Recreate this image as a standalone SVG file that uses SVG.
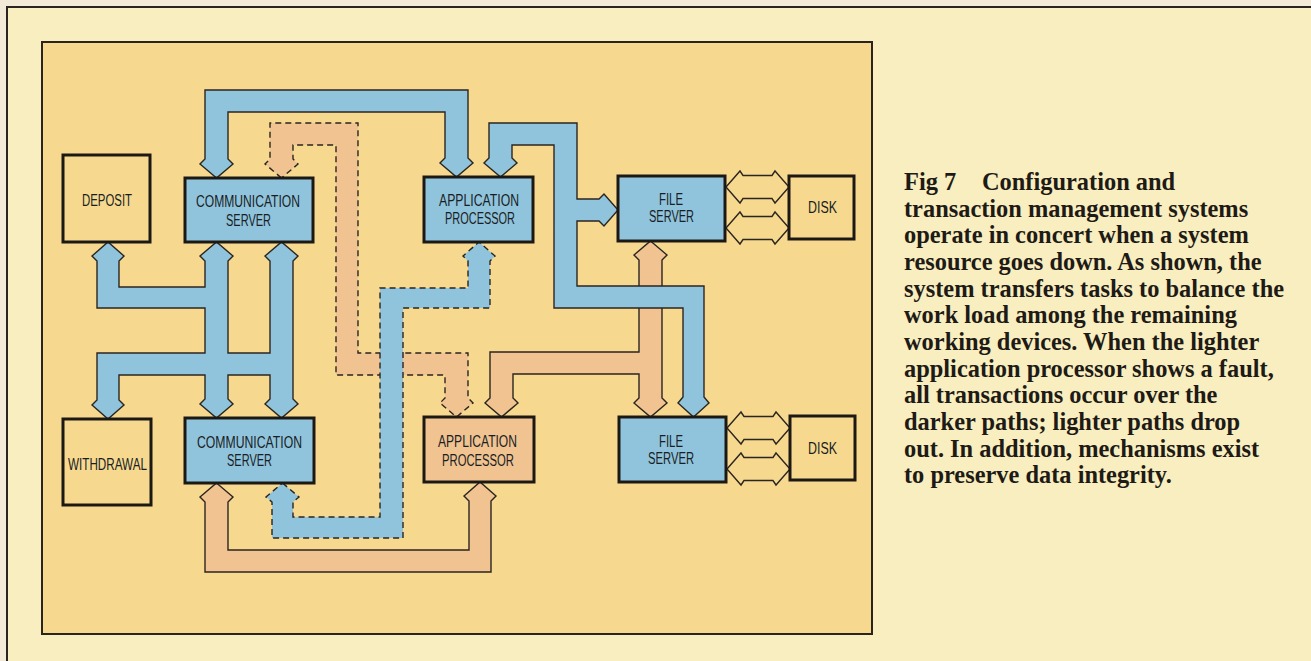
<svg xmlns="http://www.w3.org/2000/svg" width="1311" height="661" viewBox="0 0 1311 661">
<style>
.band{stroke:#2b2520;stroke-width:1.4;stroke-linejoin:miter}
.blue{fill:#90c4dc}
.orange{fill:#f0c391}
.dash{stroke-dasharray:6 4}
.box{stroke:#1c1814;stroke-width:3}
.bfill{fill:#90c4dc}
.ofill{fill:#f0c391}
.yfill{fill:#f6d98f}
.dbl{fill:#f6d98f;stroke:#2b2520;stroke-width:1.4;stroke-linejoin:miter}
.lbl{font-family:"Liberation Sans Narrow","Liberation Sans",Arial,sans-serif;font-size:16px;fill:#1a1e24}
.cap{font-family:"Liberation Serif","Times New Roman",serif;font-weight:bold;font-size:24.4px;fill:#1e1a16}
</style>
<rect x="0" y="0" width="1311" height="661" fill="#f2ead6"/>
<rect x="7" y="7" width="1320" height="670" fill="#f8eebf" stroke="#2a2420" stroke-width="2"/>
<rect x="42" y="42" width="830" height="592" fill="#f6d98f" stroke="#2a2420" stroke-width="2"/>

<g id="connectors">
  <!-- orange dashed: CS top ↔ AP bottom -->
  <polygon class="band orange dash" points="281.5,178 265,164 270,159 270,123 358,123 358,353 468,353 468,398 473,403 456.5,417 440,403 445,398 445,375 336,375 336,145 293,145 293,159 298,164"/>
  <!-- blue dashed: CS bottom ↔ AP top -->
  <polygon class="band blue dash" points="282.5,483 299,497 293,502 293,517 380,517 380,288 468,288 468,261 463,256 479,242 495,256 490,261 490,308 403,308 403,538 272,538 272,502 266,497"/>
  <!-- orange solid: CS bottom ↔ AP bottom -->
  <polygon class="band orange" points="216.5,483 233,497 228,502 228,550 469,550 469,501 464,496 480,482 496,496 491,501 491,572 205,572 205,502 200,497"/>
  <!-- orange solid: FS top ↔ FS bottom, branch AP bottom -->
  <polygon class="band orange" points="650.5,241 667,255 662,260 662,398 667,403 650.5,417 634,403 639,398 639,374 513,374 513,398 518,403 501.5,417 485,403 490,398 490,352 639,352 639,260 634,255"/>
  <!-- blue solid: CS top ↔ AP top -->
  <polygon class="band blue" points="216.5,178 200,164 205,159 205,90 468,90 468,158 473,163 456.5,177 440,163 445,158 445,112 228,112 228,159 233,164"/>
  <!-- blue solid: AP top ↔ FS top, FS bottom -->
  <polygon class="band blue" points="500.5,177 484,163 489,158 489,123 577,123 577,199 599,199 604,194 618,210 604,226 599,221 577,221 577,286 704,286 704,397 709,403 693.5,417 678,403 683,397 683,308 554,308 554,145 512,145 512,158 517,163"/>
  <!-- blue solid network: deposit, withdrawal, CS top ↔ CS bottom -->
  <polygon class="band blue" points="97,261 92,256 108,242 124,256 119,261 119,287 205,287 205,261 200,256 216.5,242 233,256 228,261 228,353 270,353 270,261 265,256 281.5,242 298,256 293,261 293,399 298,404 281.5,418 265,404 270,399 270,375 228,375 228,399 233,404 216.5,418 200,404 205,399 205,375 119,375 119,400 124,405 108,419 92,405 97,400 97,353 205,353 205,308 97,308"/>
  <!-- disk links -->
  <polygon class="dbl" points="726,187 740,171 743,175.5 772,175.5 775,171 789,187 775,203 772,198.5 743,198.5 740,203"/>
  <polygon class="dbl" points="726,228 740,212 743,216.5 772,216.5 775,212 789,228 775,244 772,239.5 743,239.5 740,244"/>
  <polygon class="dbl" points="727,428 741,412 744,416.5 773,416.5 776,412 790,428 776,444 773,439.5 744,439.5 741,444"/>
  <polygon class="dbl" points="727,469 741,453 744,457.5 773,457.5 776,453 790,469 776,485 773,480.5 744,480.5 741,485"/>
</g>

<g id="deposit">
  <rect class="box yfill" x="63" y="155" width="87" height="87"/>
  <text class="lbl" x="82" y="206" textLength="50" lengthAdjust="spacingAndGlyphs">DEPOSIT</text>
</g>
<g id="comm-server-1">
  <rect class="box bfill" x="185" y="178" width="128" height="64"/>
  <text class="lbl" x="196" y="207" textLength="104" lengthAdjust="spacingAndGlyphs">COMMUNICATION</text>
  <text class="lbl" x="226" y="226" textLength="45" lengthAdjust="spacingAndGlyphs">SERVER</text>
</g>
<g id="app-processor-1">
  <rect class="box bfill" x="424" y="177" width="109" height="65"/>
  <text class="lbl" x="439" y="206" textLength="80" lengthAdjust="spacingAndGlyphs">APPLICATION</text>
  <text class="lbl" x="445" y="224" textLength="70" lengthAdjust="spacingAndGlyphs">PROCESSOR</text>
</g>
<g id="file-server-1">
  <rect class="box bfill" x="618" y="176" width="107" height="65"/>
  <text class="lbl" x="659" y="205" textLength="24" lengthAdjust="spacingAndGlyphs">FILE</text>
  <text class="lbl" x="649" y="222" textLength="45" lengthAdjust="spacingAndGlyphs">SERVER</text>
</g>
<g id="disk-1">
  <rect class="box yfill" x="789" y="176" width="65" height="63"/>
  <text class="lbl" x="808" y="213" textLength="29" lengthAdjust="spacingAndGlyphs">DISK</text>
</g>
<g id="withdrawal">
  <rect class="box yfill" x="63" y="419" width="88" height="86"/>
  <text class="lbl" x="68" y="470" textLength="79" lengthAdjust="spacingAndGlyphs">WITHDRAWAL</text>
</g>
<g id="comm-server-2">
  <rect class="box bfill" x="185" y="418" width="129" height="65"/>
  <text class="lbl" x="197" y="448" textLength="105" lengthAdjust="spacingAndGlyphs">COMMUNICATION</text>
  <text class="lbl" x="227" y="466" textLength="45" lengthAdjust="spacingAndGlyphs">SERVER</text>
</g>
<g id="app-processor-2">
  <rect class="box ofill" x="424" y="417" width="110" height="65"/>
  <text class="lbl" x="438" y="447" textLength="79" lengthAdjust="spacingAndGlyphs">APPLICATION</text>
  <text class="lbl" x="442" y="466" textLength="72" lengthAdjust="spacingAndGlyphs">PROCESSOR</text>
</g>
<g id="file-server-2">
  <rect class="box bfill" x="619" y="417" width="107" height="65"/>
  <text class="lbl" x="659" y="447" textLength="24" lengthAdjust="spacingAndGlyphs">FILE</text>
  <text class="lbl" x="648" y="464" textLength="46" lengthAdjust="spacingAndGlyphs">SERVER</text>
</g>
<g id="disk-2">
  <rect class="box yfill" x="790" y="416" width="65" height="64"/>
  <text class="lbl" x="808" y="454" textLength="29" lengthAdjust="spacingAndGlyphs">DISK</text>
</g>

<g id="caption">
  <text class="cap" x="904" y="190">Fig 7</text>
  <text class="cap" x="982" y="190">Configuration and</text>
  <text class="cap" x="904" y="216.7">transaction management systems</text>
  <text class="cap" x="904" y="243.3">operate in concert when a system</text>
  <text class="cap" x="904" y="270">resource goes down. As shown, the</text>
  <text class="cap" x="904" y="296.7">system transfers tasks to balance the</text>
  <text class="cap" x="904" y="323.3">work load among the remaining</text>
  <text class="cap" x="904" y="350">working devices. When the lighter</text>
  <text class="cap" x="904" y="376.7">application processor shows a fault,</text>
  <text class="cap" x="904" y="403.3">all transactions occur over the</text>
  <text class="cap" x="904" y="430">darker paths; lighter paths drop</text>
  <text class="cap" x="904" y="456.7">out. In addition, mechanisms exist</text>
  <text class="cap" x="904" y="483.3">to preserve data integrity.</text>
</g>
</svg>
